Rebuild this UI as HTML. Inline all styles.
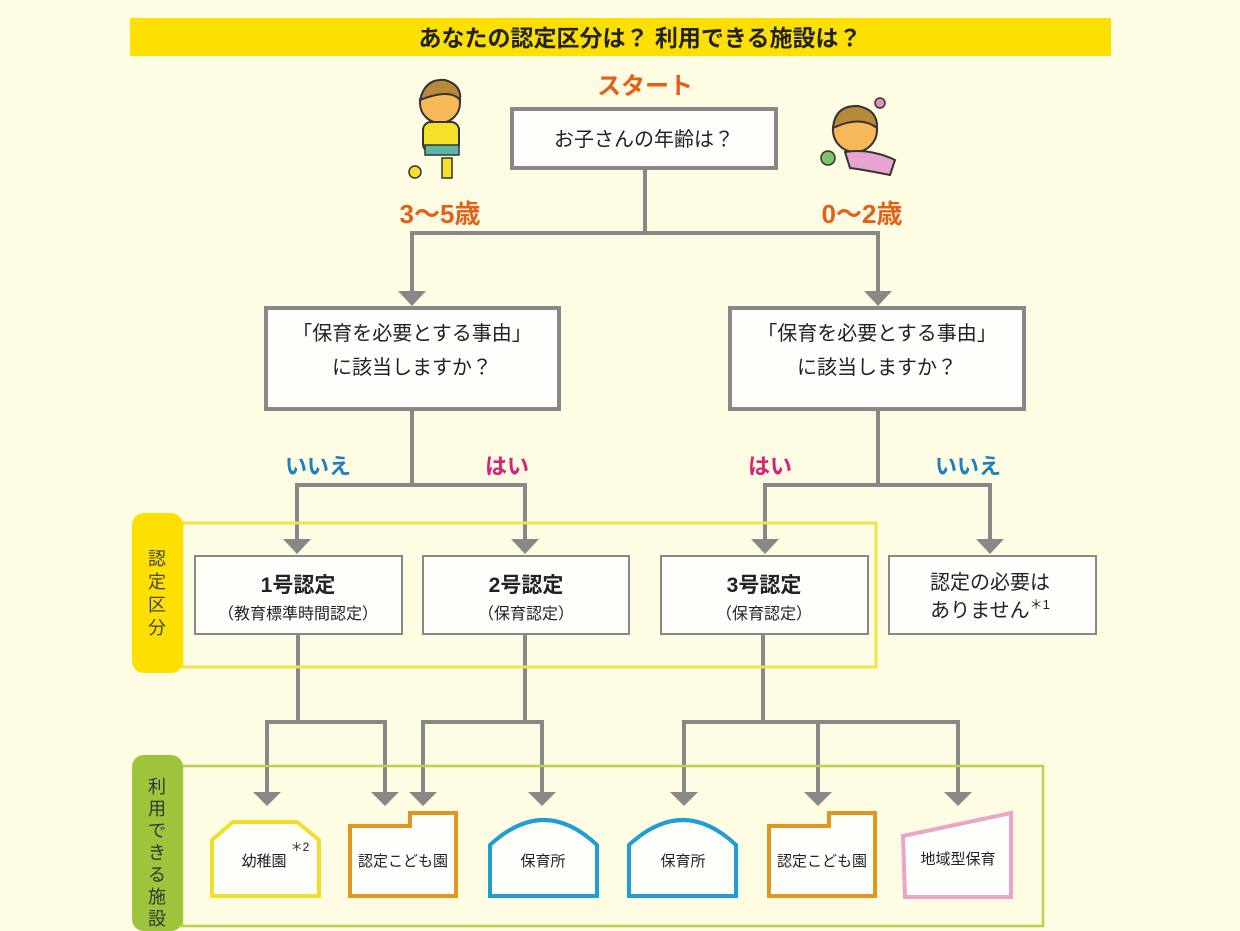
<!DOCTYPE html>
<html><head><meta charset="utf-8"><style>
html,body{margin:0;padding:0;background:#fefce3;}
svg{display:block;font-family:"Liberation Sans","Noto Sans CJK JP",sans-serif;}
</style></head><body>
<svg width="1240" height="931" viewBox="0 0 1240 931" xmlns="http://www.w3.org/2000/svg">
<defs>
<marker id="a" markerWidth="30" markerHeight="20" viewBox="0 0 30 20" refX="15" refY="14" markerUnits="userSpaceOnUse" orient="auto-start-reverse"></marker>
</defs>
<rect width="1240" height="931" fill="#fefce3"/>
<!-- title -->
<rect x="130" y="18" width="981" height="38" fill="#fde000"/>
<text x="640" y="46" text-anchor="middle" font-size="23" font-weight="bold" fill="#222">あなたの認定区分は？  利用できる施設は？</text>
<!-- kids -->
<g>
<circle cx="440" cy="103" r="20" fill="#f7b85a" stroke="#333" stroke-width="2"/>
<path d="M420 100 Q425 78 445 80 Q462 85 460 100 Q450 88 420 100Z" fill="#b78a3a" stroke="#333" stroke-width="2"/>
<rect x="423" y="122" width="36" height="30" rx="8" fill="#f6e12a" stroke="#333" stroke-width="2"/>
<rect x="425" y="145" width="34" height="10" fill="#5fb6a8" stroke="#333" stroke-width="1.5"/>
<circle cx="415" cy="172" r="6" fill="#f6e12a" stroke="#333" stroke-width="1.5"/>
<rect x="442" y="158" width="10" height="20" fill="#f6e12a" stroke="#333" stroke-width="1.5"/>
<circle cx="855" cy="130" r="22" fill="#f7b85a" stroke="#333" stroke-width="2"/>
<path d="M833 128 Q835 105 858 106 Q878 110 877 128 Q860 115 833 128Z" fill="#b78a3a" stroke="#333" stroke-width="2"/>
<circle cx="880" cy="103" r="5" fill="#e890b8" stroke="#333" stroke-width="1.5"/>
<path d="M845 152 Q870 148 895 160 L890 175 Q865 170 850 168Z" fill="#e9a3d0" stroke="#333" stroke-width="2"/>
<circle cx="828" cy="158" r="7" fill="#7cc46b" stroke="#333" stroke-width="1.5"/>
</g>
<text x="645" y="94" text-anchor="middle" font-size="24" font-weight="bold" fill="#e0621a">スタート</text>
<rect x="512" y="109" width="264" height="59" fill="#fefefa" stroke="#888" stroke-width="4"/>
<text x="644" y="146" text-anchor="middle" font-size="20" fill="#222">お子さんの年齢は？</text>
<text x="440" y="223" text-anchor="middle" font-size="26" font-weight="bold" fill="#e0621a">3～5歳</text>
<text x="862" y="223" text-anchor="middle" font-size="26" font-weight="bold" fill="#e0621a">0～2歳</text>
<g stroke="#888" stroke-width="4" fill="none">
<path d="M645 169V233M410 233H880M412 233V292M878 233V292"/>
<path d="M412 410V485M295 485H527M297 485V540M525 485V540"/>
<path d="M878 410V485M763 485H992M765 485V540M990 485V540"/>
<path d="M298 634V722M265 722H387M267 720V792M385 722V792"/>
<path d="M525 634V722M421 722H544M423 720V792M542 722V792"/>
<path d="M763 634V722M682 722H960M684 720V792M818 722V792M958 722V792"/>
</g>
<g fill="#888">
<path d="M398 291H426L412 306Z"/><path d="M864 291H892L878 306Z"/>
<path d="M283 539H311L297 554Z"/><path d="M511 539H539L525 554Z"/>
<path d="M751 539H779L765 554Z"/><path d="M976 539H1004L990 554Z"/>
<path d="M253 792H281L267 806Z"/><path d="M371 792H399L385 806Z"/>
<path d="M409 792H437L423 806Z"/><path d="M528 792H556L542 806Z"/>
<path d="M670 792H698L684 806Z"/><path d="M804 792H832L818 806Z"/><path d="M944 792H972L958 806Z"/>
</g>
<rect x="266" y="308" width="293" height="101" fill="#fefefa" stroke="#888" stroke-width="4"/>
<text x="412" y="340" text-anchor="middle" font-size="20" fill="#222">「保育を必要とする事由」</text>
<text x="412" y="374" text-anchor="middle" font-size="20" fill="#222">に該当しますか？</text>
<rect x="730" y="308" width="294" height="101" fill="#fefefa" stroke="#888" stroke-width="4"/>
<text x="877" y="340" text-anchor="middle" font-size="20" fill="#222">「保育を必要とする事由」</text>
<text x="877" y="374" text-anchor="middle" font-size="20" fill="#222">に該当しますか？</text>
<text x="318" y="474" text-anchor="middle" font-size="22" font-weight="bold" fill="#1e80c2">いいえ</text>
<text x="507" y="474" text-anchor="middle" font-size="22" font-weight="bold" fill="#d6237a">はい</text>
<text x="770" y="474" text-anchor="middle" font-size="22" font-weight="bold" fill="#d6237a">はい</text>
<text x="968" y="474" text-anchor="middle" font-size="22" font-weight="bold" fill="#1e80c2">いいえ</text>
<!-- band 1 -->
<rect x="182" y="523" width="694" height="144" fill="none" stroke="#f3e24a" stroke-width="3"/>
<rect x="132" y="513" width="51" height="160" rx="12" fill="#fde000"/>
<text font-size="18" fill="#444" text-anchor="middle"><tspan x="157" y="565">認</tspan><tspan x="157" y="588">定</tspan><tspan x="157" y="611">区</tspan><tspan x="157" y="634">分</tspan></text>
<g fill="#fefefa" stroke="#888" stroke-width="2">
<rect x="195" y="556" width="207" height="78"/><rect x="423" y="556" width="206" height="78"/>
<rect x="661" y="556" width="207" height="78"/><rect x="889" y="556" width="207" height="78"/>
</g>
<g fill="#222" text-anchor="middle">
<text x="298" y="592" font-size="21" font-weight="bold">1号認定</text>
<text x="298" y="619" font-size="16">（教育標準時間認定）</text>
<text x="526" y="592" font-size="21" font-weight="bold">2号認定</text>
<text x="526" y="619" font-size="16">（保育認定）</text>
<text x="764" y="592" font-size="21" font-weight="bold">3号認定</text>
<text x="764" y="619" font-size="16">（保育認定）</text>
<text x="990" y="589" font-size="20">認定の必要は</text>
<text x="990" y="617" font-size="20">ありません<tspan font-size="13" dy="-8">＊1</tspan></text>
</g>
<!-- band 2 -->
<rect x="182" y="766" width="861" height="160" fill="none" stroke="#b8d24a" stroke-width="2.5"/>
<rect x="132" y="755" width="51" height="176" rx="12" fill="#9dc43a"/>
<text font-size="18" fill="#333" text-anchor="middle"><tspan x="157" y="793">利</tspan><tspan x="157" y="815">用</tspan><tspan x="157" y="837">で</tspan><tspan x="157" y="859">き</tspan><tspan x="157" y="881">る</tspan><tspan x="157" y="903">施</tspan><tspan x="157" y="925">設</tspan></text>
<g stroke-width="4" fill="#fefefa">
<path d="M212 840L233 822H297L319 840V896H212Z" stroke="#f2de2a"/>
<path d="M350 826H410V813H456V896H350Z" stroke="#e0961f"/>
<path d="M490 845Q544 795 597 845V896H490Z" stroke="#1e9ed4"/>
<path d="M629 845Q683 795 736 845V896H629Z" stroke="#1e9ed4"/>
<path d="M769 826H829V813H875V896H769Z" stroke="#e0961f"/>
<path d="M903 836L1011 813V897H905Z" stroke="#eaa6c8"/>
</g>
<g font-size="15" fill="#222" text-anchor="middle">
<text x="264" y="866">幼稚園</text><text x="300" y="851" font-size="12">＊2</text>
<text x="403" y="866">認定こども園</text>
<text x="543" y="866">保育所</text>
<text x="683" y="866">保育所</text>
<text x="822" y="866">認定こども園</text>
<text x="958" y="864">地域型保育</text>
</g>
</svg>
</body></html>
